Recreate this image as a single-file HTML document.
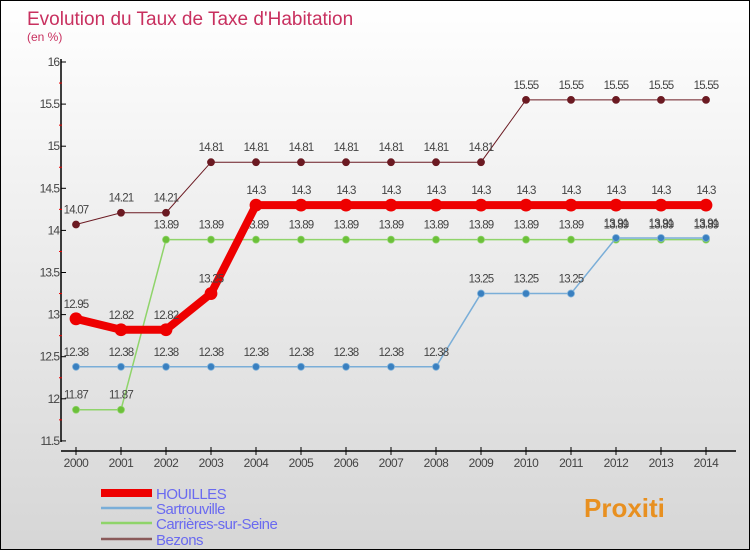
<!DOCTYPE html>
<html><head><meta charset="utf-8"><style>
body{margin:0}
#c{position:relative;width:750px;height:550px;box-sizing:border-box;border:1px solid #000;background:linear-gradient(#fff,#d6d6d6);font-family:"Liberation Sans",sans-serif;overflow:hidden}
svg{position:absolute;left:0;top:0}
</style></head><body>
<div id="c">
<svg id="s" width="750" height="550">
<text x="26" y="24" font-size="19" fill="#c8305f">Evolution du Taux de Taxe d'Habitation</text>
<text x="26" y="40" font-size="12" fill="#c8305f">(en %)</text>
</svg>
</div>
<script>
const years=[2000,2001,2002,2003,2004,2005,2006,2007,2008,2009,2010,2011,2012,2013,2014];
const yTicks=[11.5,12,12.5,13,13.5,14,14.5,15,15.5,16];
const houilles=[12.95,12.82,12.82,13.25,14.3,14.3,14.3,14.3,14.3,14.3,14.3,14.3,14.3,14.3,14.3];
const sartrouville=[12.38,12.38,12.38,12.38,12.38,12.38,12.38,12.38,12.38,13.25,13.25,13.25,13.91,13.91,13.91];
const carrieres=[11.87,11.87,13.89,13.89,13.89,13.89,13.89,13.89,13.89,13.89,13.89,13.89,13.89,13.89,13.89];
const bezons=[14.07,14.21,14.21,14.81,14.81,14.81,14.81,14.81,14.81,14.81,15.55,15.55,15.55,15.55,15.55];
const names=["HOUILLES","Sartrouville","Carrières-sur-Seine","Bezons"];
const NS="http://www.w3.org/2000/svg",s=document.getElementById('s');
const X=i=>75+i*45, Y=v=>61+(16-v)*84.2;
function el(t,a,p){const e=document.createElementNS(NS,t);for(const k in a)e.setAttribute(k,a[k]);(p||s).appendChild(e);return e;}
let e;
e=el('line',{x1:60,y1:58,x2:60,y2:441,stroke:'#000','stroke-width':1.5});


e=el('line',{x1:60,y1:450,x2:735,y2:450,stroke:'#000','stroke-width':1.5});


yTicks.forEach((v,i)=>{
 el('line',{x1:60,y1:Y(v),x2:65,y2:Y(v),stroke:'#000'});
 if(i<yTicks.length-1)el('line',{x1:58,y1:Y(v+0.25),x2:61,y2:Y(v+0.25),stroke:'#e00'});
 e=el('text',{x:58,y:Y(v)+4,'font-size':12,'text-anchor':'end',fill:'#444','letter-spacing':'-1'});e.textContent=v;
 
 
});
years.forEach((y,i)=>{
 el('line',{x1:X(i),y1:446,x2:X(i),y2:454,stroke:'#000'});
 e=el('text',{x:X(i),y:466,'font-size':12,'text-anchor':'middle',fill:'#444','letter-spacing':'-0.5'});e.textContent=y;
 
 
});
function series(d,col,dot,w,r,name){
 const g=el('g',{});
 
 
 el('polyline',{points:d.map((v,i)=>X(i)+','+Y(v)).join(' '),fill:'none',stroke:col,'stroke-width':w},g);
 d.forEach((v,i)=>{
  e=el('circle',{cx:X(i),cy:Y(v),r:r,fill:dot,stroke:col,'stroke-width':0.8},g);
  
  
  e=el('text',{x:X(i),y:Y(v)-11,'font-size':11.5,'text-anchor':'middle',fill:'#444','letter-spacing':'-0.8'},g);e.textContent=v;
  
  
 });
}
series(bezons,'#6b1a22','#6b1a22',1,3.5,'series-bezons');
series(carrieres,'#8fd46a','#6cc03a',1.5,3.5,'series-carrieres');
series(sartrouville,'#7aaed8','#3a80c0',1.5,3.5,'series-sartrouville');
series(houilles,'#e00','#e00',8,6,'series-houilles');
const lc=['#e00','#7aaed8','#8fd46a','#8a5a5a'],lw=[8,2.5,2.5,2.5],ly=[492,507,522,538];
names.forEach((n,i)=>{
 const g=el('g',{});
 
 
 el('line',{x1:100,y1:ly[i],x2:151,y2:ly[i],stroke:lc[i],'stroke-width':lw[i]},g);
 e=el('text',{x:155,y:ly[i]+6,'font-size':15,fill:'#6a6af0','letter-spacing':'-0.5'},g);e.textContent=n;
});
e=el('text',{x:583,y:516,'font-size':26,'font-weight':'bold',fill:'#e89020'});e.textContent='Proxiti';


</script>
</body></html>
